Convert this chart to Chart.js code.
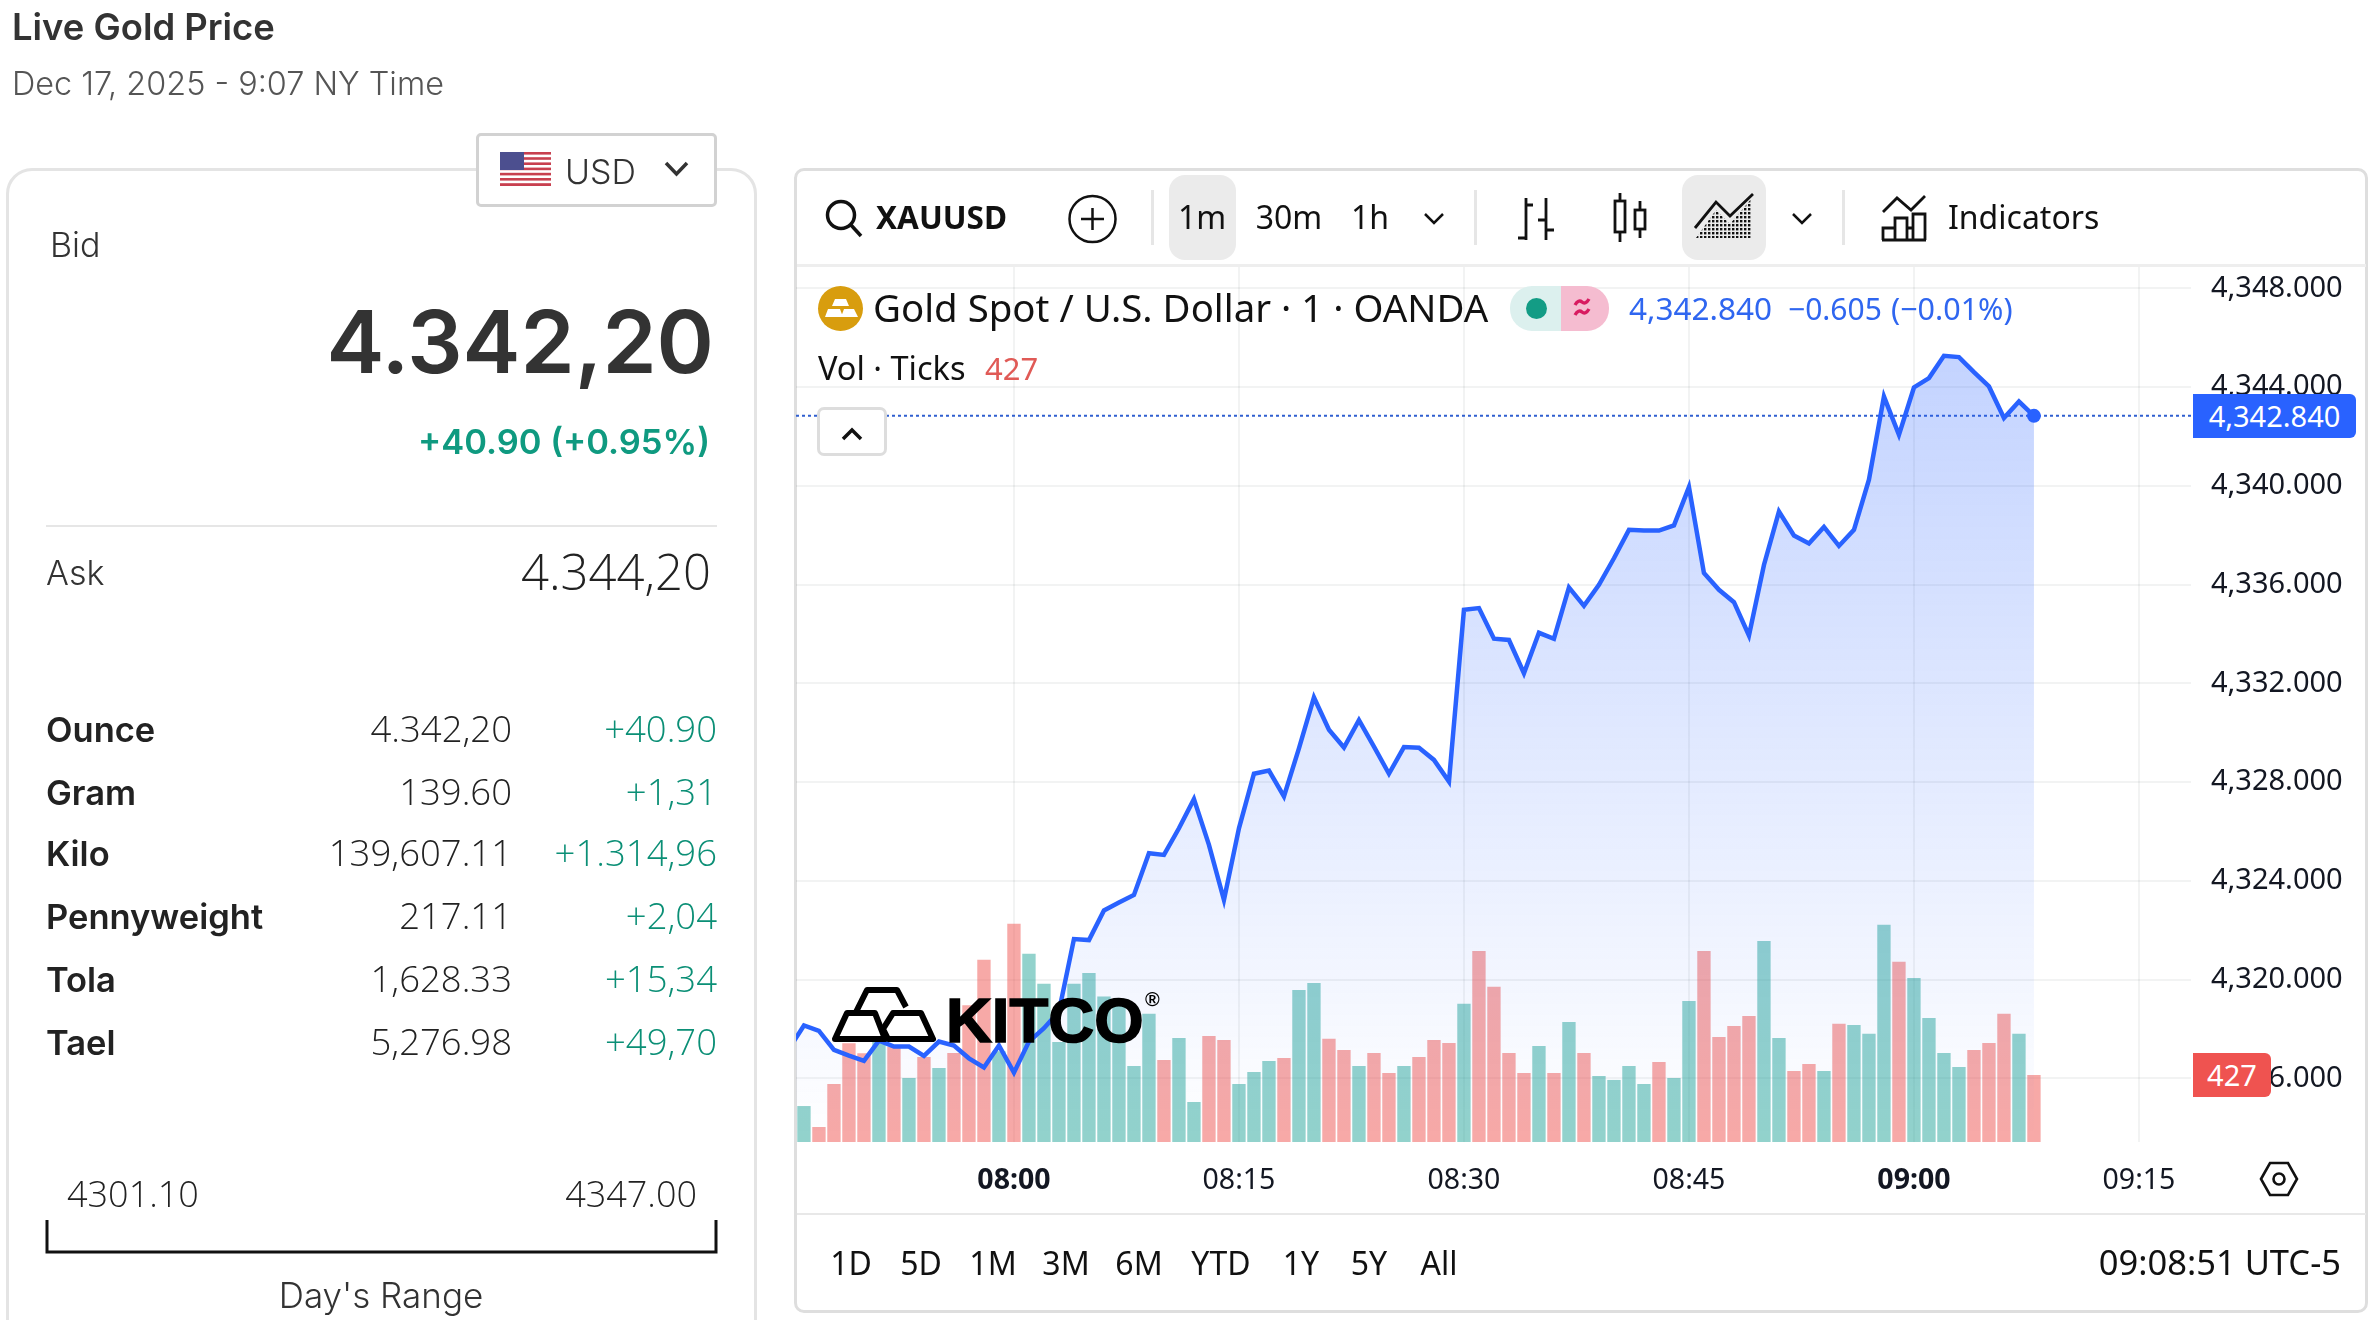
<!DOCTYPE html>
<html><head><meta charset="utf-8"><title>Live Gold Price</title>
<style>
html,body{margin:0;padding:0;background:#fff;width:2376px;height:1320px;overflow:hidden}
#page{position:relative;width:2376px;height:1320px;overflow:hidden}
.box{position:absolute;box-sizing:border-box}
.t{position:absolute;white-space:nowrap;line-height:0;z-index:5}
.t i{display:inline-block;height:100px;width:0}
canvas{position:absolute;left:796px;top:267px;z-index:1}
svg{position:absolute;left:0;top:0;z-index:3}
</style></head><body>
<div id="page">
<div class="box" style="left:6px;top:168px;width:751px;height:1300px;border:3px solid #e4e4e4;border-radius:26px"></div>
<div class="box" style="left:476px;top:133px;width:241px;height:74px;border:3px solid #d2d2d2;border-radius:5px;background:#fff;z-index:2"></div>
<div class="box" style="left:46px;top:525px;width:671px;height:2px;background:#e6e6e6"></div>
<div class="box" style="left:794px;top:168px;width:1574px;height:1145px;border:3px solid #dedede;border-radius:10px"></div>
<div class="box" style="left:797px;top:264px;width:1569px;height:3px;background:#eeeeee"></div>
<div class="box" style="left:797px;top:1213px;width:1569px;height:2px;background:#e8e8e8"></div>
<div class="box" style="left:1169px;top:175px;width:67px;height:85px;border-radius:16px;background:#ebebeb"></div>
<div class="box" style="left:1682px;top:175px;width:84px;height:85px;border-radius:16px;background:#ebebeb"></div>
<div class="box" style="left:1151px;top:190px;width:3px;height:55px;background:#e6e6e6"></div>
<div class="box" style="left:1474px;top:190px;width:3px;height:55px;background:#e6e6e6"></div>
<div class="box" style="left:1842px;top:190px;width:3px;height:55px;background:#e6e6e6"></div>
<div class="box" style="left:1510px;top:286px;width:51px;height:45px;border-radius:22px 0 0 22px;background:#dcf0ee;z-index:2"></div>
<div class="box" style="left:1526px;top:298px;width:21px;height:21px;border-radius:50%;background:#139c85;z-index:2"></div>
<div class="box" style="left:1561px;top:286px;width:48px;height:45px;border-radius:0 22px 22px 0;background:#f5bcd0;z-index:2"></div>
<div class="box" style="left:817px;top:407px;width:70px;height:49px;border:3px solid #dddddd;border-radius:7px;background:#fff;z-index:2"></div>
<canvas id="chart" width="1570" height="946"></canvas>
<svg width="2376" height="1320" viewBox="0 0 2376 1320" fill="none" stroke="#111" stroke-width="3">
  <defs>
    <pattern id="dots" width="4" height="4" patternUnits="userSpaceOnUse"><rect width="2.4" height="2.4" fill="#111" stroke="none"/></pattern>
  </defs>
  <g stroke="none" transform="translate(-2 0)">
    <rect x="502" y="152" width="51" height="34" fill="#fff"/>
    <rect x="502" y="152" width="51" height="2.6" fill="#c8404f"/><rect x="502" y="157.2" width="51" height="2.6" fill="#c8404f"/>
    <rect x="502" y="162.4" width="51" height="2.6" fill="#c8404f"/><rect x="502" y="167.6" width="51" height="2.6" fill="#c8404f"/>
    <rect x="502" y="172.8" width="51" height="2.6" fill="#c8404f"/><rect x="502" y="178" width="51" height="2.6" fill="#c8404f"/>
    <rect x="502" y="183.2" width="51" height="2.8" fill="#c8404f"/>
    <rect x="502" y="152" width="24" height="18" fill="#4c4f8f"/>
  </g>
  <path d="M666 163l10.500 11 10.500-11" stroke="#333" stroke-width="3.500"/>
  <path d="M47 1220V1252H716V1220" stroke="#111" stroke-width="3"/>
  <circle cx="841" cy="215" r="13.500" stroke-width="3.500"/><path d="M851 225l10 11" stroke-width="3.500"/>
  <circle cx="1092.500" cy="219" r="23" stroke-width="2.500"/><path d="M1092.500 208v22M1081 219h23" stroke-width="2.500"/>
  <path d="M1425 214l9 9 9-9M1793 214l9 9 9-9" stroke-width="2.500"/>
  <path d="M1526 198v42M1518 238h8M1526 205h7M1546 198v42M1538 220h8M1546 230h8" stroke-width="2.800"/>
  <path d="M1620 193v8M1620 232v10M1640 201v9M1640 229v9" stroke-width="2.800"/>
  <rect x="1615" y="201" width="10" height="31" stroke-width="2.800"/><rect x="1635" y="210" width="10" height="19" stroke-width="2.800"/>
  <path d="M1696 238l20-28 14 14 22-26v40z" fill="url(#dots)" stroke="none"/>
  <path d="M1695 228l21-26 14 14 23-22" stroke-width="2.800"/>
  <path d="M1883 212l14-14 14 12 14-14" stroke-width="2.800"/>
  <path d="M1883 240v-12h12v12M1895 240v-22h12v22M1907 240v-12h6M1913 240v-26h12v26M1882 240h44" stroke-width="2.800"/>
  <circle cx="840.500" cy="308.500" r="22.500" fill="#d89d0e" stroke="none"/>
  <path d="M835 299h11l3 7h-17zM825 317l3-8h12l3 8zM841 317l3-8h10l4 8z" fill="#fff" stroke="none"/>
  <path d="M1575 305q3.500-6 7-3t7-3M1575 315q3.500-6 7-3t7-3" stroke="#d81b60" stroke-width="3.400"/>
  <path d="M843 439l9-9 9 9" stroke-width="3.500"/>
  <path d="M2261 1179l9-16h18l9 16-9 16h-18z" stroke-width="2.600"/><circle cx="2279" cy="1179" r="5.500" stroke-width="2.600"/>
  <g stroke="#000" stroke-width="6" stroke-linejoin="round">
    <path d="M856 1012l11-22h30l9 17"/>
    <path d="M835 1039l12-26h28l10 26z"/>
    <path d="M888 1039l-5-10 10-16h28l12 26z"/>
  </g>
</svg>
</div>
<script src="https://cdn.jsdelivr.net/npm/chart.js@4/dist/chart.umd.js"></script>
<script>
// --- chart data ---
const priceStart = "07:45";
const priceValues = [
 4317.19,4318.14,4317.92,4317.15,4316.92,4316.71,4317.53,4317.29,4317.29,4316.91,4317.49,4317.33,4316.81,4316.44,4317.33,
 4316.23,4317.49,4318.03,4318.71,4321.64,4321.60,4322.80,4323.12,4323.43,4325.12,4325.05,4326.13,4327.31,4325.46,4323.23,
 4326.13,4328.34,4328.47,4327.42,4329.37,4331.43,4330.12,4329.40,4330.51,4329.44,4328.34,4329.42,4329.39,4328.90,4328.02,
 4334.98,4335.05,4333.81,4333.76,4332.41,4334.05,4333.81,4335.89,4335.14,4335.99,4337.07,4338.22,4338.19,4338.19,4338.40,
 4339.95,4336.47,4335.79,4335.29,4333.94,4336.80,4338.96,4337.99,4337.67,4338.34,4337.57,4338.22,4340.25,4343.62,4342.07,
 4343.99,4344.37,4345.27,4345.22,4344.61,4344.03,4342.75,4343.42,4342.84];
const volumeStart = "07:46";
const volumeValues = [
 228,94,369,630,566,640,608,408,542,472,568,873,1164,579,1394,1202,1010,638,1010,1080,929,907,485,818,523,664,254,677,651,369,
 446,517,536,971,1016,658,587,485,568,440,485,542,651,632,882,1221,991,568,440,613,440,766,568,421,395,485,369,510,408,901,
 1221,670,741,805,1285,664,453,497,453,754,747,690,1388,1151,1048,792,568,478,587,632,818,690,427];
const volumeUp = [
 1,0,0,0,0,1,0,1,0,1,0,0,0,1,0,1,1,1,1,1,1,1,1,1,0,1,1,0,0,1,
 1,1,0,1,1,0,0,1,0,0,1,0,0,0,1,0,0,0,0,1,0,1,0,1,1,1,1,0,1,1,
 0,0,0,0,1,1,0,0,1,0,1,1,1,0,1,1,1,1,0,0,0,1,0];
const priceTicks = [4316,4320,4324,4328,4332,4336,4340,4344,4348];
const timeTicks = ["08:00","08:15","08:30","08:45","09:00","09:15"];
const boldTimes = ["08:00","09:00"];
const lastPrice = 4342.84;
const lastVolume = 427;

const panelTexts = [
 ["Live Gold Price",12,40,36.400,600,"#333","l"],
 ["Dec 17, 2025 - 9:07 NY Time",12,95,32.400,300,"#555","l"],
 ["USD",565,184,34,300,"#333","l"],
 ["Bid",50,257,34,300,"#333","l"],
 ["4.342,20",714,373,87,600,"#333","r"],
 ["+40.90 (+0.95%)",710,454,34.500,600,"#0f9a80","r"],
 ["Ask",46,585,34,300,"#333","l"],
 ["Ounce",46,742,34.500,600,"#222","l"],
 ["Gram",46,805,34.500,600,"#222","l"],
 ["Kilo",46,866,34.500,600,"#222","l"],
 ["Pennyweight",46,929,34.500,600,"#222","l"],
 ["Tola",46,992,34.500,600,"#222","l"],
 ["Tael",46,1055,34.500,600,"#222","l"],
 ["Day's Range",381,1308,35,300,"#333","c"]
];
const panelNumbers = [
 ["4.344,20",711,590,49,300,"#222","r"],
 ["4.342,20",512,742,36.500,300,"#222","r"],["+40.90",717,742,36.500,300,"#0b8f76","r"],
 ["139.60",512,805,36.500,300,"#222","r"],["+1,31",717,805,36.500,300,"#0b8f76","r"],
 ["139,607.11",512,866,36.500,300,"#222","r"],["+1.314,96",717,866,36.500,300,"#0b8f76","r"],
 ["217.11",512,929,36.500,300,"#222","r"],["+2,04",717,929,36.500,300,"#0b8f76","r"],
 ["1,628.33",512,992,36.500,300,"#222","r"],["+15,34",717,992,36.500,300,"#0b8f76","r"],
 ["5,276.98",512,1055,36.500,300,"#222","r"],["+49,70",717,1055,36.500,300,"#0b8f76","r"],
 ["4301.10",67,1207,36,300,"#222","l"],["4347.00",697,1207,36,300,"#222","r"]
];
const chartTexts = [
 ["XAUUSD",876,229,31.5,700,"#111","l"],
 ["1m",1202,229,32,400,"#111","c"],["30m",1289,229,32,400,"#111","c"],["1h",1370,229,32,400,"#111","c"],
 ["Indicators",1948,229,32,400,"#111","l"],
 ["Gold Spot / U.S. Dollar · 1 · OANDA",873,322,38.400,400,"#111","l"],
 ["4,342.840",1629,320,31.500,400,"#2f66f0","l"],["−0.605",1788,320,30,400,"#2f66f0","l"],["(−0.01%)",1891,320,30.500,400,"#2f66f0","l"],
 ["Vol · Ticks",818,380,32.500,400,"#111","l"],["427",985,380,31,400,"#e05a56","l"],
 ["1D",851,1275,32,400,"#111","c"],["5D",921,1275,32,400,"#111","c"],["1M",993,1275,32,400,"#111","c"],["3M",1066,1275,32,400,"#111","c"],
 ["6M",1139,1275,32,400,"#111","c"],["YTD",1221,1275,32,400,"#111","c"],["1Y",1301,1275,32,400,"#111","c"],["5Y",1369,1275,32,400,"#111","c"],["All",1439,1275,32,400,"#111","c"],
 ["09:08:51 UTC-5",2341,1275,34.500,400,"#111","r"]
];
const PANEL_FONT = "Inter, 'Open Sans', sans-serif";
const NUMBER_FONT = "'Open Sans', sans-serif";
const CHART_FONT = "'Noto Sans', 'Open Sans', sans-serif";

const page = document.getElementById("page");
function addText(a, font){
  const [s,x,y,size,w,col,al] = a;
  const d = document.createElement("div");
  d.className = "t";
  d.style.cssText = `top:${y-100}px;font:${w} ${size}px ${font};line-height:0;color:${col};`+
    (al==="r" ? `right:${2376-x}px;` : al==="c" ? `left:${x}px;transform:translateX(-50%);` : `left:${x}px;`);
  d.innerHTML = "<i></i>";
  d.appendChild(document.createTextNode(s));
  page.appendChild(d);
  return d;
}
panelTexts.forEach(a=>addText(a,PANEL_FONT));
panelNumbers.forEach(a=>addText(a,NUMBER_FONT));
chartTexts.forEach(a=>addText(a,CHART_FONT));
const logo = addText(["KITCO",946,1042,63.500,700,"#000","l"],"'Liberation Sans', sans-serif");
logo.style.webkitTextStroke="1.6px #000";
addText(["®",1145,1006,20,700,"#000","l"],"'Liberation Sans', sans-serif");

const toMin = s => { const [h,m]=s.split(":").map(Number); return h*60+m; };
const toLabel = v => String(Math.floor(v/60)).padStart(2,"0")+":"+String(v%60).padStart(2,"0");
const priceData = priceValues.map((v,i)=>({x:toMin(priceStart)+i,y:v}));
const volumeData = volumeValues.map((v,i)=>({x:toMin(volumeStart)+i,y:v}));
const X_MIN = 465.47, X_MAX = 558.47, Y_MIN = 4313.42, Y_MAX = 4348.87, V_MAX = 5600;
const TICK_FONT = "'Noto Sans', sans-serif";
const GRID = "rgba(42,46,57,0.06)";

const chart = new Chart(document.getElementById("chart"), {
  type: "line",
  data: { datasets: [
    { type:"bar", label:"Vol", data:volumeData, yAxisID:"yv", xAxisID:"x", order:3, barThickness:12.7,
      backgroundColor: volumeUp.map(u=>u?"rgba(38,166,154,0.5)":"rgba(239,83,80,0.5)"), borderWidth:0 },
    { type:"line", label:"XAUUSD", data:priceData, yAxisID:"y", xAxisID:"x", order:1,
      borderColor:"#2962ff", borderWidth:4.5, tension:0,
      pointRadius: c => c.dataIndex===priceData.length-1 ? 7 : 0, pointBackgroundColor:"#2962ff", pointBorderWidth:0,
      fill:"start",
      backgroundColor: c => {
        const ca = c.chart.chartArea; if(!ca) return "transparent";
        const g = c.chart.ctx.createLinearGradient(0,c.chart.scales.y.getPixelForValue(Math.max(...priceValues)),0,ca.bottom);
        g.addColorStop(0,"rgba(41,98,255,0.28)"); g.addColorStop(1,"rgba(41,98,255,0)");
        return g;
      } },
    { type:"line", label:"Last", data:[{x:X_MIN,y:lastPrice},{x:X_MAX,y:lastPrice}], yAxisID:"y", xAxisID:"x", order:2,
      borderColor:"#2f5fd0", borderWidth:2, borderDash:[3,3], pointRadius:0, fill:false }
  ]},
  options: {
    responsive:false, animation:false, devicePixelRatio:1,
    layout:{padding:0,autoPadding:false},
    plugins:{legend:{display:false},tooltip:{enabled:false}},
    scales:{
      x:{ type:"linear", position:"bottom", min:X_MIN, max:X_MAX, offset:false,
        afterBuildTicks: s => { s.ticks = timeTicks.map(t=>({value:toMin(t)})); },
        afterFit: s => { s.height = 71; s.paddingLeft = 0; s.paddingRight = 0; },
        border:{display:false},
        grid:{color:GRID,lineWidth:2,drawTicks:false,offset:false},
        ticks:{ autoSkip:false, maxRotation:0, padding:22, color:"#131722",
          callback: v => toLabel(v),
          font: c => ({ family:TICK_FONT, size:28.5, weight: c.tick && boldTimes.includes(toLabel(c.tick.value)) ? 700 : 400 }) } },
      y:{ type:"linear", position:"right", min:Y_MIN, max:Y_MAX,
        afterBuildTicks: s => { s.ticks = priceTicks.map(v=>({value:v})); },
        afterFit: s => { s.width = 175; s.paddingTop = 0; s.paddingBottom = 0; },
        border:{display:false},
        grid:{color:GRID,lineWidth:2,drawTicks:false},
        ticks:{ autoSkip:false, padding:20, color:"#131722", font:{family:TICK_FONT,size:29},
          callback: v => v.toLocaleString("en-US",{minimumFractionDigits:3,maximumFractionDigits:3}) } },
      yv:{ type:"linear", display:false, min:0, max:V_MAX }
    }
  }
});

// price and volume tags sit on the scales' own positions
const top0 = 267;
const py = chart.scales.y.getPixelForValue(lastPrice)+top0;
const vy = chart.scales.yv.getPixelForValue(lastVolume)+top0;
function tag(txt,left,cy,w,h,bg,rad){
  const d = document.createElement("div");
  d.className="box";
  d.style.cssText=`left:${left}px;top:${cy-h/2}px;width:${w}px;height:${h}px;background:${bg};border-radius:${rad};z-index:4;color:#fff;font:400 29px ${TICK_FONT};line-height:${h}px;text-align:center;`;
  d.textContent=txt; page.appendChild(d);
}
tag(lastPrice.toLocaleString("en-US",{minimumFractionDigits:3}),2193,py,163,44,"#2962ff","0 6px 6px 0");
tag(String(lastVolume),2193,vy,78,44,"#ef5350","0 6px 6px 0");
</script>
</body></html>
